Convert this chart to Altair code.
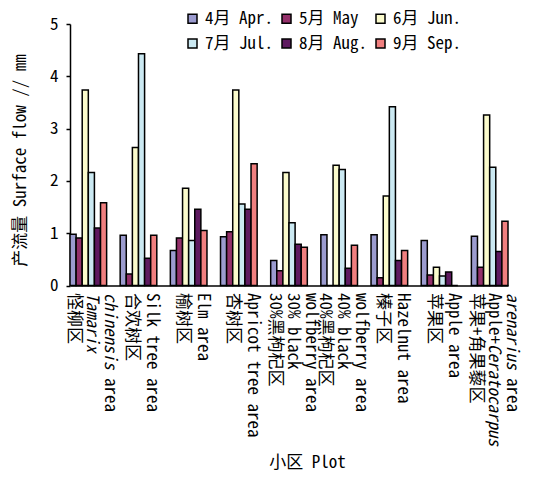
import altair as alt
import pandas as pd

# Plots (x categories) and months (series)
plots = ["怪柳区", "合欢树区", "榆树区", "杏树区", "30%黑枸杞区",
         "40%黑枸杞区", "榛子区", "苹果区", "苹果+角果藜区"]
months = ["4月 Apr.", "5月 May", "6月 Jun.", "7月 Jul.", "8月 Aug.", "9月 Sep."]

# Surface flow (mm) per plot, one list per month
apr = [0.98, 0.96, 0.67, 0.93, 0.48, 0.97, 0.97, 0.86, 0.94]
may = [0.91, 0.22, 0.91, 1.03, 0.28, 0.00, 0.15, 0.20, 0.35]
jun = [3.74, 2.64, 1.86, 3.74, 2.16, 2.30, 1.71, 0.35, 3.26]
jul = [2.16, 4.43, 0.86, 1.56, 1.20, 2.22, 3.42, 0.18, 2.26]
aug = [1.10, 0.52, 1.46, 1.46, 0.79, 0.33, 0.48, 0.26, 0.65]
sep = [1.58, 0.96, 1.05, 2.33, 0.73, 0.77, 0.67, 0.00, 1.23]
series = [apr, may, jun, jul, aug, sep]

# Category label lines; each line is a list of (text, italic) pieces
plot_labels = [
    [[("怪柳区", False)], [("Tamarix", True)], [("chinensis", True), (" area", False)]],
    [[("合欢树区", False)], [("Silk tree area", False)]],
    [[("榆树区", False)], [("Elm area", False)]],
    [[("杏树区", False)], [("Apricot tree area", False)]],
    [[("30%黑枸杞区", False)], [("30% black", False)], [("wolfberry area", False)]],
    [[("40%黑枸杞区", False)], [("40% black", False)], [("wolfberry area", False)]],
    [[("榛子区", False)], [("Hazelnut area", False)]],
    [[("苹果区", False)], [("Apple area", False)]],
    [[("苹果+角果藜区", False)], [("Apple+", False), ("Ceratocarpus", True)],
     [("arenarius", True), (" area", False)]],
]

colors = ["#9b9bcf", "#94306a", "#fbfbcc", "#cbe9f2", "#5e1a60", "#f07f7f"]

FONT = "Noto Sans Mono CJK SC, Liberation Mono, Noto Sans CJK SC"
FS = 17
W, H = 438, 261.5
LABEL_SHIFT = 4


def text_width(s):
    return sum(FS if ord(c) > 0x2E80 else FS / 2 for c in s)


bars_df = pd.DataFrame(
    [{"plot": p, "month": m, "flow": vals[i]}
     for m, vals in zip(months, series)
     for i, p in enumerate(plots)]
)

# Build the label pieces with their rotated-frame offsets
pieces = []
for p, lines in zip(plots, plot_labels):
    n = len(lines)
    gap = 18 if n == 3 else 20
    for k, line in enumerate(lines):
        ox = LABEL_SHIFT + (k - (n - 1) / 2) * gap
        pos = 0.0
        for txt, ital in line:
            stripped = txt.lstrip(" ")
            pos += (len(txt) - len(stripped)) * FS / 2
            pieces.append({"plot": p, "text": stripped, "italic": ital,
                           "dy": -ox, "dx": pos})
            pos += text_width(stripped)
pieces_df = pd.DataFrame(pieces)

x_scale = alt.Scale(domain=plots, paddingInner=0.27, paddingOuter=0)
x_axis = alt.Axis(labels=False, ticks=False, domainColor="black",
                  domainWidth=1.5, title="小区 Plot",
                  titleFont=FONT, titleFontSize=FS,
                  titleFontWeight="normal", titleColor="black",
                  titleX=237, titleY=176.5,
                  titleAlign="center", titleBaseline="middle")

bars = alt.Chart(bars_df).mark_bar(stroke="black", strokeWidth=1.5).encode(
    x=alt.X("plot:N", scale=x_scale, sort=plots, axis=x_axis),
    xOffset=alt.XOffset("month:N", sort=months),
    y=alt.Y("flow:Q", scale=alt.Scale(domain=[0, 5], nice=False),
            axis=alt.Axis(values=[0, 1, 2, 3, 4, 5], grid=False,
                          tickSize=4, tickColor="black", tickWidth=1.5,
                          domainColor="black", domainWidth=1.5,
                          labelFont=FONT, labelFontSize=FS, labelColor="black",
                          labelPadding=8,
                          title="产流量 Surface flow // mm",
                          titleFont=FONT, titleFontSize=FS,
                          titleFontWeight="normal", titleColor="black",
                          titleX=-50, titleY=136, titleAngle=-90,
                          titleAlign="center", titleBaseline="middle")),
    color=alt.Color("month:N", sort=months,
                    scale=alt.Scale(domain=months, range=colors),
                    legend=alt.Legend(orient="none", legendX=114, legendY=-14,
                                      padding=0, columns=3,
                                      direction="horizontal",
                                      title=None, symbolType="square",
                                      symbolSize=81, symbolStrokeColor="black",
                                      symbolStrokeWidth=1.5,
                                      labelFont=FONT, labelFontSize=FS,
                                      labelColor="black", labelOffset=4,
                                      columnPadding=5, rowPadding=7)),
)

# Rotated category labels, grouped by identical offsets and style
label_layers = []
for (dy, dx, ital), grp in pieces_df.groupby(["dy", "dx", "italic"]):
    label_layers.append(
        alt.Chart(grp).mark_text(
            angle=90, align="left", baseline="middle", font=FONT,
            fontSize=FS, color="black", dx=float(dx), dy=float(dy),
            fontStyle="italic" if ital else "normal",
        ).encode(
            x=alt.X("plot:N", scale=x_scale, sort=plots, axis=x_axis),
            y=alt.value(H + 7.5),
            text="text:N",
        )
    )

chart = alt.layer(bars, *label_layers).properties(
    width=W, height=H,
    padding={"left": 70, "top": 24, "right": 48, "bottom": 191.5},
    autosize=alt.AutoSizeParams(type="none"),
    background="white",
).configure_view(stroke=None)

chart.save("out.html", embed_options={"renderer": "svg", "actions": False})
